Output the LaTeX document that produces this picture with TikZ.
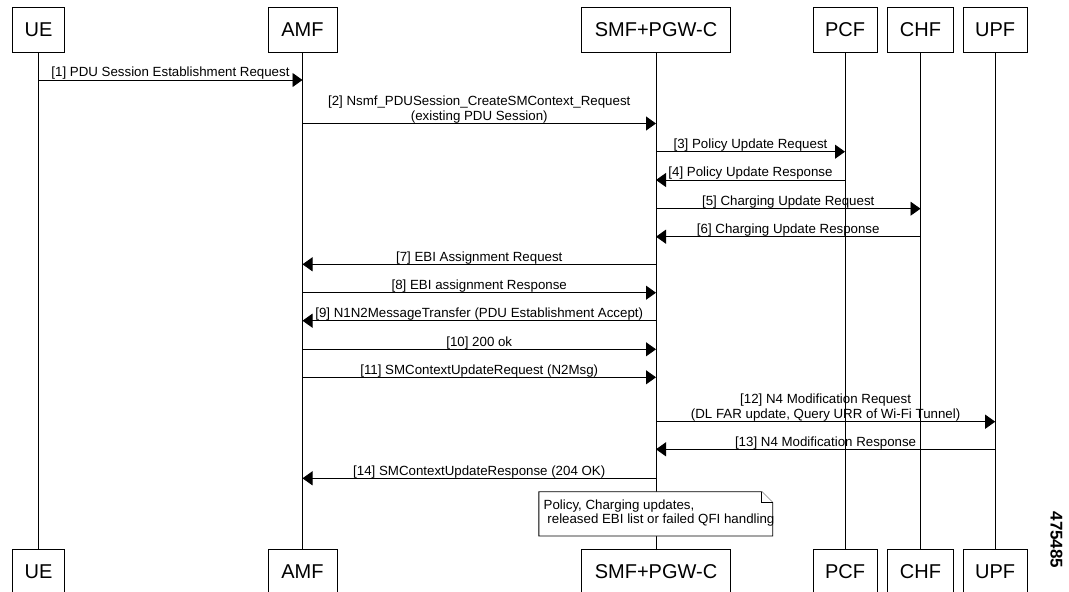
\documentclass[tikz,border=0pt]{standalone}
\usepackage{fontspec}
\setmainfont{Liberation Sans}
\usetikzlibrary{arrows.meta}
\usetikzlibrary{calc}
\tikzset{
  entitybox/.style={draw, line width=0.9pt, minimum height=45pt, inner sep=0pt, font=\fontsize{20}{22}\selectfont},
  lifeline/.style={line width=0.9pt},
  msgarrow/.style={line width=0.9pt, -{Triangle[length=10pt,width=14pt]}},
  msglabel/.style={anchor=south, inner sep=0pt, align=center, font=\fontsize{13.3}{14.5}\selectfont},
  notebox/.style={draw, fill=white, line width=0.9pt},
}

\begin{document}
\begin{tikzpicture}[x=1pt,y=-1pt]
        \newcommand{\figflowtopy}{29.5}
        \newcommand{\figflowboty}{571.5}
        \newcommand{\figflowuex}{38.5}
        \newcommand{\figflowamfx}{302.5}
        \newcommand{\figflowsmfx}{656}
        \newcommand{\figflowpcfx}{845}
        \newcommand{\figflowchfx}{920.5}
        \newcommand{\figflowupfx}{995.2}
        \newcommand{\figflownoteleft}{538.8}
        \newcommand{\figflownoteright}{772.7}
        \newcommand{\figflownotetop}{491.7}
        \newcommand{\figflownotebot}{536}
        \newcommand{\figflownotefold}{11}
        \useasboundingbox (0,0) rectangle (1069,592);
        \node[entitybox, minimum width=52pt] (ue) at (\figflowuex,\figflowtopy) {UE};
        \node[entitybox, minimum width=69pt] (amf) at (\figflowamfx,\figflowtopy) {AMF};
        \node[entitybox, minimum width=149pt] (smf) at (\figflowsmfx,\figflowtopy) {SMF+PGW-C};
        \node[entitybox, minimum width=64pt] (pcf) at (\figflowpcfx,\figflowtopy) {PCF};
        \node[entitybox, minimum width=66pt] (chf) at (\figflowchfx,\figflowtopy) {CHF};
        \node[entitybox, minimum width=64.4pt] (upf) at (\figflowupfx,\figflowtopy) {UPF};
        \node[entitybox, minimum width=52pt] (uebot) at (\figflowuex,\figflowboty) {UE};
        \node[entitybox, minimum width=69pt] (amfbot) at (\figflowamfx,\figflowboty) {AMF};
        \node[entitybox, minimum width=149pt] (smfbot) at (\figflowsmfx,\figflowboty) {SMF+PGW-C};
        \node[entitybox, minimum width=64pt] (pcfbot) at (\figflowpcfx,\figflowboty) {PCF};
        \node[entitybox, minimum width=66pt] (chfbot) at (\figflowchfx,\figflowboty) {CHF};
        \node[entitybox, minimum width=64.4pt] (upfbot) at (\figflowupfx,\figflowboty) {UPF};
        \draw[lifeline] (ue) -- (uebot);
        \draw[lifeline] (amf) -- (amfbot);
        \draw[lifeline] (smf) -- (smfbot);
        \draw[lifeline] (pcf) -- (pcfbot);
        \draw[lifeline] (chf) -- (chfbot);
        \draw[lifeline] (upf) -- (upfbot);
        \coordinate (msgone) at (0,80);
        \coordinate (msgtwo) at (0,123.5);
        \coordinate (msgthree) at (0,151.7);
        \coordinate (msgfour) at (0,180);
        \coordinate (msgfive) at (0,208.7);
        \coordinate (msgsix) at (0,236.7);
        \coordinate (msgseven) at (0,264.3);
        \coordinate (msgeight) at (0,292.7);
        \coordinate (msgnine) at (0,320.7);
        \coordinate (msgten) at (0,349.3);
        \coordinate (msgeleven) at (0,377.3);
        \coordinate (msgtwelve) at (0,421.7);
        \coordinate (msgthirteen) at (0,449.3);
        \coordinate (msgfourteen) at (0,478.3);
        \draw[msgarrow] (ue |- msgone) -- (amf |- msgone) node[msglabel, midway] (lblone) {[1] PDU Session Establishment Request};
        \draw[msgarrow] (amf |- msgtwo) -- (smf |- msgtwo) node[msglabel, midway] (lbltwo) {[2] Nsmf\_PDUSession\_CreateSMContext\_Request\\(existing PDU Session)};
        \draw[msgarrow] (smf |- msgthree) -- (pcf |- msgthree) node[msglabel, midway] (lblthree) {[3] Policy Update Request};
        \draw[msgarrow] (pcf |- msgfour) -- (smf |- msgfour) node[msglabel, midway] (lblfour) {[4] Policy Update Response};
        \draw[msgarrow] (smf |- msgfive) -- (chf |- msgfive) node[msglabel, midway] (lblfive) {[5] Charging Update Request};
        \draw[msgarrow] (chf |- msgsix) -- (smf |- msgsix) node[msglabel, midway] (lblsix) {[6] Charging Update Response};
        \draw[msgarrow] (smf |- msgseven) -- (amf |- msgseven) node[msglabel, midway] (lblseven) {[7] EBI Assignment Request};
        \draw[msgarrow] (amf |- msgeight) -- (smf |- msgeight) node[msglabel, midway] (lbleight) {[8] EBI assignment Response};
        \draw[msgarrow] (smf |- msgnine) -- (amf |- msgnine) node[msglabel, midway] (lblnine) {[9] N1N2MessageTransfer (PDU Establishment Accept)};
        \draw[msgarrow] (amf |- msgten) -- (smf |- msgten) node[msglabel, midway] (lblten) {[10] 200 ok};
        \draw[msgarrow] (amf |- msgeleven) -- (smf |- msgeleven) node[msglabel, midway] (lbleleven) {[11] SMContextUpdateRequest (N2Msg)};
        \draw[msgarrow] (smf |- msgtwelve) -- (upf |- msgtwelve) node[msglabel, midway] (lbltwelve) {[12] N4 Modification Request\\(DL FAR update, Query URR of Wi-Fi Tunnel)};
        \draw[msgarrow] (upf |- msgthirteen) -- (smf |- msgthirteen) node[msglabel, midway] (lblthirteen) {[13] N4 Modification Response};
        \draw[msgarrow] (smf |- msgfourteen) -- (amf |- msgfourteen) node[msglabel, midway] (lblfourteen) {[14] SMContextUpdateResponse (204 OK)};
        \draw[notebox] (\figflownoteleft,\figflownotetop) -- (\figflownoteright-\figflownotefold,\figflownotetop) -- (\figflownoteright,\figflownotetop+\figflownotefold) -- (\figflownoteright,\figflownotebot) -- (\figflownoteleft,\figflownotebot) -- cycle;
        \draw[notebox] (\figflownoteright-\figflownotefold,\figflownotetop) -- (\figflownoteright-\figflownotefold,\figflownotetop+\figflownotefold) -- (\figflownoteright,\figflownotetop+\figflownotefold);
        \node[anchor=west, inner sep=0pt, align=left, font=\fontsize{13.3}{14.5}\selectfont] (notetext) at (\figflownoteleft+4.7,513.3) {Policy, Charging updates,\\\hspace*{0.28em}released EBI list or failed QFI handling};
        \node[rotate=-90, inner sep=0pt, font=\bfseries\fontsize{17}{17}\selectfont] (figid) at (1056.5,540) {475485};
    \end{tikzpicture}
\end{document}
